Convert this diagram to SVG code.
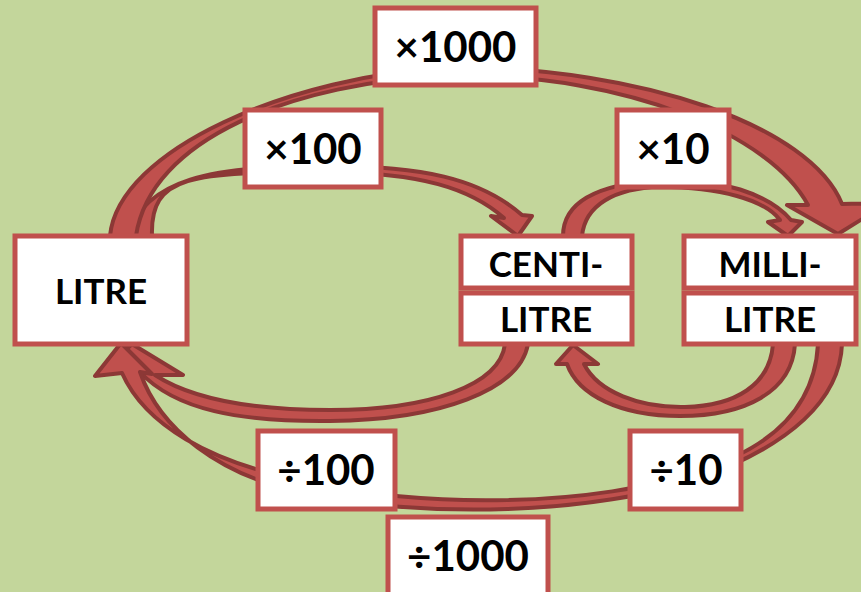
<svg xmlns="http://www.w3.org/2000/svg" width="861" height="592" viewBox="0 0 861 592">
<style>
.bg{fill:#C3D69B}
.arrow{fill:#C0504D;stroke:#8C3836;stroke-width:4;stroke-linejoin:round}
.box{fill:#FFFFFF;stroke:#C0504D;stroke-width:5}
.lbl{font-family:Lato,"Liberation Sans",sans-serif;font-weight:bold;font-size:42px;fill:#000;text-anchor:middle}
.node{font-family:Lato,"Liberation Sans",sans-serif;font-weight:bold;font-size:35px;fill:#000;text-anchor:middle}
</style>
<rect class="bg" x="0" y="0" width="861" height="592"/>
<g id="connectors">
  <!-- x100 LITRE -> CENTI -->
  <path class="arrow" d="M 127 236 C 145 180, 210 165, 330 166 C 420 166, 480 178, 522 215 L 532 216 L 518 236 L 491 216 L 504 218 C 470 188, 420 173, 330 172 C 190 172, 150 175, 152 236 Z"/>
  <!-- x1000 LITRE -> MILLI -->
  <path class="arrow" d="M 110 236 C 118 150, 290 75, 455 67 C 640 68, 810 125, 842 204 L 888 203 L 838 234 L 787 205 L 808 205 C 770 135, 630 75, 455 75 C 290 82, 150 140, 136 236 Z"/>
  <!-- x10 CENTI -> MILLI -->
  <path class="arrow" d="M 563 236 C 563 200, 600 184, 660 180 C 720 177, 770 195, 791 220 L 802 222 L 788 236 L 768 222 L 780 220 C 765 200, 720 187, 660 187 C 615 188, 585 205, 582 236 Z"/>
  <!-- ÷10 MILLI -> CENTI -->
  <path class="arrow" d="M 795 344 C 792 392, 745 416, 680 416 C 620 416, 578 395, 567 364 L 556 364 L 573 345 L 598 364 L 584 364 C 598 392, 640 408, 685 407 C 735 406, 770 385, 773 344 Z"/>
  <!-- ÷100 CENTI -> LITRE -->
  <path class="arrow" d="M 528 344 C 520 390, 440 420, 330 421 C 240 422, 175 410, 140 372 L 110 365 L 132 344 L 183 375 L 155 375 C 190 398, 250 410, 330 410 C 430 410, 500 385, 505 344 Z"/>
  <!-- ÷1000 MILLI -> LITRE -->
  <path class="arrow" d="M 842 344 C 840 400, 790 445, 700 478 C 600 514, 420 520, 300 492 C 220 475, 160 430, 140 372 L 152 374 L 121 343 L 95 376 L 122 373 C 145 425, 210 462, 300 480 C 420 510, 600 507, 700 470 C 780 445, 815 400, 818 344 Z"/>
</g>
<g id="litre">
  <rect class="box" x="15" y="236" width="172" height="108"/>
  <text class="node" x="101" y="304">LITRE</text>
</g>
<g id="centilitre">
  <rect class="box" x="461" y="236" width="171" height="52"/>
  <rect class="box" x="461" y="293" width="171" height="51"/>
  <text class="node" x="546" y="277">CENTI-</text>
  <text class="node" x="546" y="332">LITRE</text>
</g>
<g id="millilitre">
  <rect class="box" x="684" y="236" width="172" height="52"/>
  <rect class="box" x="684" y="293" width="172" height="51"/>
  <text class="node" x="770" y="277">MILLI-</text>
  <text class="node" x="770" y="332">LITRE</text>
</g>
<g id="mul1000">
  <rect class="box" x="375" y="8" width="161" height="77"/>
  <text class="lbl" x="455.5" y="62">×1000</text>
</g>
<g id="mul100">
  <rect class="box" x="245" y="110" width="136" height="77"/>
  <text class="lbl" x="313" y="164">×100</text>
</g>
<g id="mul10">
  <rect class="box" x="617" y="110" width="112" height="77"/>
  <text class="lbl" x="673" y="164">×10</text>
</g>
<g id="div100">
  <rect class="box" x="258" y="431" width="137" height="78"/>
  <text class="lbl" x="326" y="485">÷100</text>
</g>
<g id="div10">
  <rect class="box" x="630" y="431" width="111" height="78"/>
  <text class="lbl" x="686" y="485">÷10</text>
</g>
<g id="div1000">
  <rect class="box" x="388" y="517" width="160" height="82"/>
  <text class="lbl" x="468" y="571">÷1000</text>
</g>
</svg>
